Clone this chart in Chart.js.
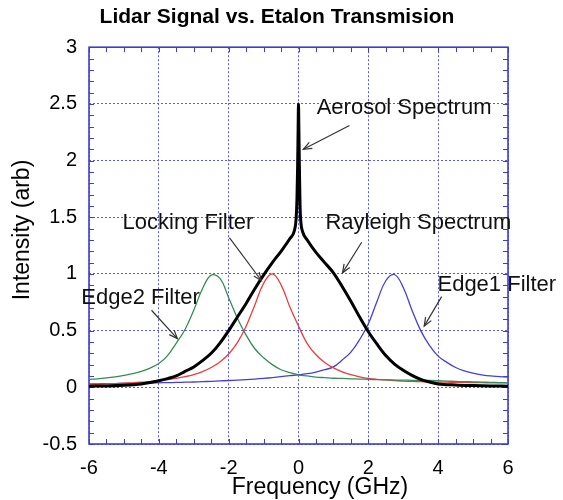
<!DOCTYPE html>
<html>
<head>
<meta charset="utf-8">
<script src="https://cdn.jsdelivr.net/npm/chart.js@4.4.0/dist/chart.umd.min.js"></script>
<style>
body{margin:0;background:#fff;}
#wrap{width:563px;height:500px;}
</style>
</head>
<body>
<div id="wrap"><canvas id="lidarChart"></canvas></div>
<script>

// ===== data =====
// frequency grid (GHz) for the three etalon filters
let freqGHz = [-6,-5.75,-5.5,-5.25,-5,-4.75,-4.5,-4.25,-4,-3.75,-3.5,-3.25,-3,-2.75,-2.5,-2.25,-2,-1.75,-1.5,-1.25,-1,-0.75,-0.5,-0.25,0,
0.25,0.5,0.75,1,1.25,1.5,1.75,2,2.25,2.5,2.75,3,3.25,3.5,3.75,4,4.25,4.5,4.75,5,5.25,5.5,5.75,6]

let edge2Filter = [0.07,0.075,0.083,0.093,0.105,0.12,0.14,0.17,0.21,0.28,0.39,0.51,0.68,0.87,0.99,0.96,0.79,0.61,0.46,0.34,0.26,0.2,0.155,0.13,0.11,
0.1,0.09,0.085,0.08,0.078,0.075,0.073,0.07,0.068,0.066,0.064,0.063,0.062,0.06,0.06,0.058,0.055,0.052,0.05,0.048,0.046,0.044,0.042,0.04]

let lockingFilter = [0.025,0.027,0.03,0.033,0.036,0.04,0.045,0.05,0.06,0.067,0.079,0.094,0.113,0.139,0.175,0.224,0.294,0.395,0.539,0.727,0.917,1.0,0.904,0.711,0.54,
0.386,0.287,0.219,0.171,0.137,0.111,0.092,0.078,0.07,0.065,0.06,0.055,0.052,0.05,0.048,0.046,0.045,0.044,0.043,0.042,0.041,0.04,0.04,0.04]

let edge1Filter = [0.03,0.031,0.032,0.033,0.034,0.035,0.036,0.038,0.04,0.041,0.043,0.045,0.047,0.05,0.053,0.056,0.06,0.064,0.068,0.073,0.079,0.086,0.094,0.103,0.11,
0.12,0.135,0.155,0.18,0.24,0.31,0.42,0.56,0.76,0.94,0.995,0.88,0.68,0.5,0.37,0.275,0.22,0.175,0.145,0.125,0.11,0.1,0.095,0.09]

// rayleigh + aerosol return, denser near the aerosol spike
let rayleighFreq = [-6,-5.5,-5,-4.5,-4.25,-4,-3.75,-3.5,-3.25,-3,-2.75,-2.5,-2.25,-2,-1.75,-1.5,-1.25,-1,-0.75,-0.5,
-0.25,-0.12,-0.07,-0.045,-0.025,-0.01,0,0.01,0.025,0.045,0.07,0.12,0.25,0.5,0.75,1,1.25,1.5,1.75,2,
2.25,2.5,2.75,3,3.25,3.5,3.75,4,4.5,5,5.5,6]

let lidarSignal = [0.01,0.012,0.018,0.03,0.042,0.058,0.077,0.1,0.14,0.18,0.235,0.3,0.39,0.5,0.62,0.74,0.87,0.99,1.1,1.2,
1.31,1.38,1.48,1.65,1.95,2.3,2.5,2.3,1.95,1.6,1.45,1.37,1.3,1.19,1.1,1.01,0.89,0.76,0.62,0.49,
0.38,0.28,0.205,0.15,0.105,0.07,0.047,0.03,0.02,0.015,0.012,0.01]

let xTicks = [-6,-4,-2,0,2,4,6]
let yTicks = [-0.5,0,0.5,1,1.5,2,2.5,3]

// ===== styles =====
let fontFam = "'Liberation Sans', Arial, sans-serif"
let axisBlue = "rgb(60,60,215)"
let gridBlue = "rgb(90,90,225)"

// text labels with arrows (data coords)
let notes = [
  {text:"Aerosol Spectrum",  tx:0.52,  ty:2.46, from:[1.46,2.31],  to:[0.14,2.10]},
  {text:"Rayleigh Spectrum", tx:0.77,  ty:1.45, from:[1.81,1.28],  to:[1.26,1.01]},
  {text:"Locking Filter",    tx:-5.04, ty:1.45, from:[-1.98,1.32], to:[-1.06,0.94]},
  {text:"Edge2 Filter",      tx:-6.22, ty:0.79, from:[-4.21,0.68], to:[-3.47,0.43]},
  {text:"Edge1 Filter",      tx:3.98,  ty:0.90, from:[4.1,0.80],   to:[3.6,0.54]}
]

function toPoints(xs, ys){
  return xs.map((x,i)=>({x:x, y:ys[i]}))
}

function drawArrow(ctx, x1, y1, x2, y2){
  ctx.beginPath()
  ctx.moveTo(x1,y1)
  ctx.lineTo(x2,y2)
  ctx.stroke()
  let ang = Math.atan2(y2-y1, x2-x1)
  let h = 9
  ctx.beginPath()
  ctx.moveTo(x2 - h*Math.cos(ang-0.38), y2 - h*Math.sin(ang-0.38))
  ctx.lineTo(x2, y2)
  ctx.lineTo(x2 - h*Math.cos(ang+0.38), y2 - h*Math.sin(ang+0.38))
  ctx.stroke()
}

// frame, minor ticks, axis titles and the labelled arrows
let decorations = {
  id:"decorations",
  beforeDatasetsDraw(chart){
    let {ctx, chartArea:a, scales} = chart
    let sx = scales.x, sy = scales.y
    ctx.save()
    ctx.strokeStyle = axisBlue
    ctx.lineWidth = 1
    ctx.beginPath()
    for(let v=-6; v<=6.001; v+=0.5){
      let px = Math.round(sx.getPixelForValue(v)) + 0.5
      ctx.moveTo(px, a.bottom); ctx.lineTo(px, a.bottom-5)
      ctx.moveTo(px, a.top); ctx.lineTo(px, a.top+5)
    }
    for(let v=-0.5; v<=3.001; v+=0.1){
      let py = Math.round(sy.getPixelForValue(v)) + 0.5
      ctx.moveTo(a.left, py); ctx.lineTo(a.left+5, py)
      ctx.moveTo(a.right, py); ctx.lineTo(a.right-5, py)
    }
    ctx.stroke()
    ctx.lineWidth = 1.6
    ctx.strokeRect(a.left, a.top, a.right-a.left, a.bottom-a.top)

    // axis titles
    ctx.fillStyle = "#000"
    ctx.font = "23px " + fontFam
    ctx.textAlign = "center"
    ctx.textBaseline = "middle"
    ctx.fillText("Frequency (GHz)", 320, 488)
    ctx.translate(23, 230)
    ctx.rotate(-Math.PI/2)
    ctx.fillText("Intensity (arb)", 0, 0)
    ctx.restore()
  },
  afterDatasetsDraw(chart){
    let {ctx, scales} = chart
    let sx = scales.x, sy = scales.y
    ctx.save()
    ctx.font = "22px " + fontFam
    ctx.fillStyle = "#111"
    ctx.textAlign = "left"
    ctx.textBaseline = "middle"
    ctx.strokeStyle = "#333"
    ctx.lineWidth = 1.2
    notes.forEach(n=>{
      ctx.fillText(n.text, sx.getPixelForValue(n.tx), sy.getPixelForValue(n.ty))
      drawArrow(ctx,
        sx.getPixelForValue(n.from[0]), sy.getPixelForValue(n.from[1]),
        sx.getPixelForValue(n.to[0]), sy.getPixelForValue(n.to[1]))
    })
    ctx.restore()
  }
}

// ===== chart =====
let ctx = document.getElementById("lidarChart").getContext("2d")

new Chart(ctx,{
  type:"scatter",
  data:{
    datasets:[
      {label:"Rayleigh Spectrum", data:toPoints(rayleighFreq, lidarSignal), borderColor:"#000", borderWidth:3, cubicInterpolationMode:"monotone"},
      {label:"Edge2 Filter", data:toPoints(freqGHz, edge2Filter), borderColor:"rgb(55,140,85)", borderWidth:1.3, tension:0.4},
      {label:"Locking Filter", data:toPoints(freqGHz, lockingFilter), borderColor:"rgb(235,60,60)", borderWidth:1.3, tension:0.4},
      {label:"Edge1 Filter", data:toPoints(freqGHz, edge1Filter), borderColor:"rgb(65,65,215)", borderWidth:1.3, tension:0.4}
    ].map(d=>Object.assign(d,{showLine:true, pointRadius:0, fill:false}))
  },
  options:{
    responsive:true,
    maintainAspectRatio:false,
    animation:false,
    layout:{padding:{left:0, right:9, top:0, bottom:0}},
    plugins:{
      legend:{display:false},
      tooltip:{enabled:false},
      title:{
        display:true,
        text:"Lidar Signal vs. Etalon Transmision",
        color:"#000",
        font:{family:fontFam, size:21, weight:"bold", lineHeight:1.2},
        padding:{top:5, bottom:17}
      }
    },
    scales:{
      x:{
        type:"linear", min:-6, max:6,
        afterBuildTicks:s=>{ s.ticks = xTicks.map(v=>({value:v})) },
        afterFit:s=>{ s.height = 56 },
        ticks:{color:"#000", padding:12, font:{family:fontFam, size:20}, callback:v=>String(v)},
        grid:{color:gridBlue, lineWidth:1, drawTicks:false},
        border:{display:false, dash:[2,2]}
      },
      y:{
        type:"linear", min:-0.5, max:3,
        afterBuildTicks:s=>{ s.ticks = yTicks.map(v=>({value:v})) },
        afterFit:s=>{ s.width = 89 },
        ticks:{color:"#000", padding:12, font:{family:fontFam, size:20}, callback:v=>String(v)},
        grid:{color:gridBlue, lineWidth:1, drawTicks:false},
        border:{display:false, dash:[2,2]}
      },
      // empty right-hand strip so the title centres like the original
      yRight:{
        type:"linear", position:"right", min:0, max:1,
        afterFit:s=>{ s.width = 46 },
        ticks:{display:false},
        grid:{display:false},
        border:{display:false}
      }
    }
  },
  plugins:[decorations]
})

</script>
</body>
</html>
